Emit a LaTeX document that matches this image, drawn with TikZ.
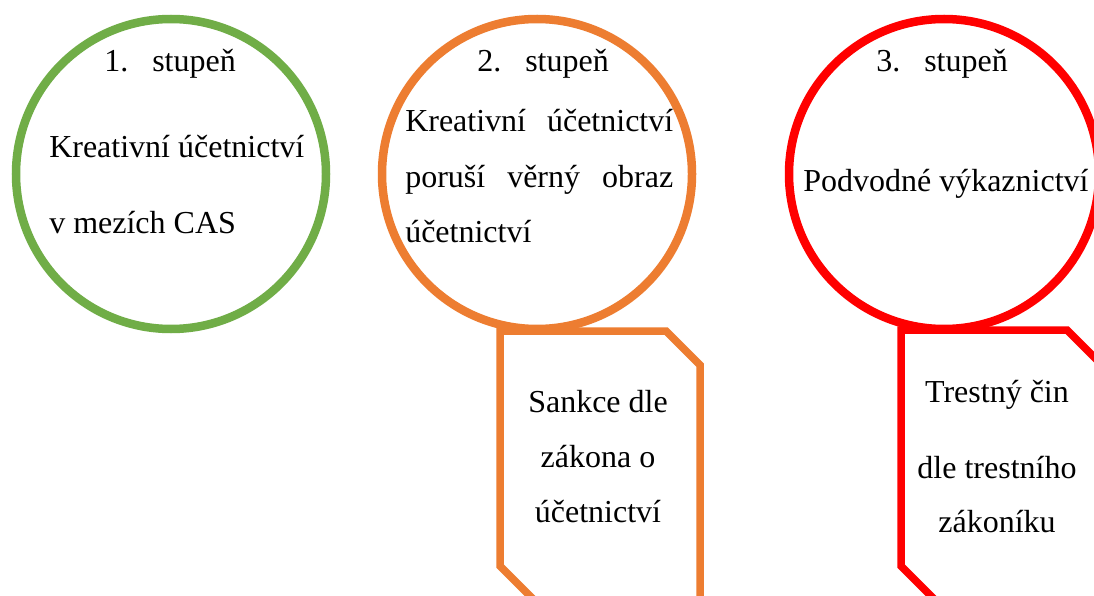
\documentclass[tikz,border=0pt]{standalone}
\usepackage{fontspec}
\setmainfont{Liberation Serif}
\definecolor{zelena}{RGB}{112,173,71}
\definecolor{oranzova}{RGB}{237,125,49}
\definecolor{cervena}{RGB}{255,0,0}
\begin{document}
\begin{tikzpicture}[x=1pt,y=-1pt,line width=8.5pt,line join=miter,
  txt/.style={anchor=base west,inner sep=0pt,font=\fontsize{32}{38}\selectfont},
  ctxt/.style={txt,anchor=base}]
\clip (0,0) rectangle (1094,596);
\fill[white] (0,0) rectangle (1094,596);
% kruhy
\draw[zelena] (171,174) circle[radius=155pt];
\draw[oranzova] (537,174) circle[radius=155pt];
\draw[cervena] (944,174) circle[radius=155pt];
% sankce
\filldraw[oranzova,fill=white,line width=7.5pt]
    (500,331) -- (666,331) -- (700,365) -- (700,600) --
    (534,600) -- (500,566) -- cycle;
\filldraw[cervena,fill=white,line width=7.5pt]
    (901,330) -- (1067,330) -- (1101,364) -- (1101,600) --
    (935,600) -- (901,566) -- cycle;
% 1. stupen
\node[txt] (st1) at (100,72) {\makebox[48pt][l]{1.}stupeň};
\node[txt] (kr1) at (45,158) {Kreativní účetnictví};
\node[txt] (cas) at (45,233) {v mezích CAS};
% 2. stupen
\node[txt] (st2) at (473,72) {\makebox[48pt][l]{2.}stupeň};
\node[txt,text width=268pt] (kr2) at (401,132) {Kreativní\hfill účetnictví};
\node[txt,text width=268pt] (vob) at (401,187) {poruší\hfill věrný\hfill obraz};
\node[txt] (uc2) at (401,242) {účetnictví};
% 3. stupen
\node[txt] (st3) at (872,72) {\makebox[48pt][l]{3.}stupeň};
\node[txt] (pv) at (799,192) {Podvodné výkaznictví};
% sankce - texty
\node[ctxt] (sa1) at (598,412) {Sankce dle};
\node[ctxt] (sa2) at (598,467) {zákona o};
\node[ctxt] (sa3) at (598,522) {účetnictví};
\node[ctxt] (tc1) at (997,402) {Trestný čin};
\node[ctxt] (tc2) at (997,478) {dle trestního};
\node[ctxt] (tc3) at (997,532) {zákoníku};
\end{tikzpicture}
\end{document}
